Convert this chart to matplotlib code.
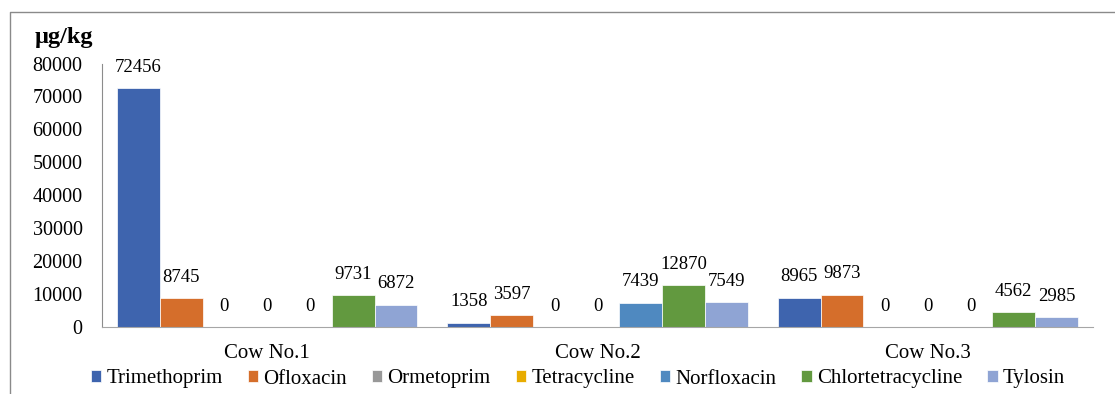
import numpy as np
import matplotlib
matplotlib.use("Agg")
import matplotlib.pyplot as plt
from matplotlib.lines import Line2D

plt.rcParams['font.family'] = ['Liberation Serif', 'DejaVu Serif']

# data
cows = ["Cow No.1", "Cow No.2", "Cow No.3"]
drugs = ["Trimethoprim", "Ofloxacin", "Ormetoprim", "Tetracycline",
         "Norfloxacin", "Chlortetracycline", "Tylosin"]
trimethoprim = [72456, 1358, 8965]
ofloxacin = [8745, 3597, 9873]
ormetoprim = [0, 0, 0]
tetracycline = [0, 0, 0]
norfloxacin = [0, 7439, 0]
chlortetracycline = [9731, 12870, 4562]
tylosin = [6872, 7549, 2985]
yticks = [0, 10000, 20000, 30000, 40000, 50000, 60000, 70000, 80000]

series = [trimethoprim, ofloxacin, ormetoprim, tetracycline,
          norfloxacin, chlortetracycline, tylosin]
colors = ["#3E64AE", "#D56E2B", "#989898", "#E8AC00",
          "#4F89C0", "#62993F", "#8FA4D4"]

fig = plt.figure(figsize=(11.15, 3.94), dpi=100)
ax = fig.add_axes([0.0915, 0.1693, 0.8888, 0.6695])

x = np.arange(len(cows))
width = 0.13
n = len(series)
for i, (vals, c) in enumerate(zip(series, colors)):
    pos = x + (i - (n - 1) / 2) * width
    bars = ax.bar(pos, vals, width, color=c, edgecolor="white",
                  linewidth=0.5, label=drugs[i])
    # value label above every bar, zeros included
    for b, v in zip(bars, vals):
        ax.annotate(str(v), (b.get_x() + b.get_width() / 2, v),
                    xytext=(0, 15), textcoords="offset points",
                    ha="center", va="center", fontsize=13.5)

ax.set_xlim(-0.5, len(cows) - 0.5)
ax.set_ylim(0, 80000)
ax.set_yticks(yticks)
ax.set_yticklabels([str(t) for t in yticks], fontsize=14.5)
ax.set_xticks(x)
ax.set_xticklabels(cows, fontsize=15)
ax.tick_params(axis="y", length=0, pad=14)
ax.tick_params(axis="x", length=0, pad=12)
for s in ["top", "right"]:
    ax.spines[s].set_visible(False)
ax.spines["left"].set_color("#8C8C8C")
ax.spines["bottom"].set_color("#A6A6A6")
ax.spines["left"].set_linewidth(0.8)
ax.spines["bottom"].set_linewidth(0.8)

fig.text(64 / 1115, 1 - 37 / 394, "µg/kg", fontsize=17.5, fontweight="bold",
         ha="center", va="center")

fig.legend(loc="center", bbox_to_anchor=(578 / 1115, 1 - 379 / 394),
           ncol=7, frameon=False, fontsize=15, handlelength=0.5,
           handleheight=0.5, handletextpad=0.25, columnspacing=1.2,
           borderaxespad=0, borderpad=0)

# frame of the original figure (top and left edges only)
fig.add_artist(Line2D([10 / 1115, 10 / 1115, 1.0], [0.0, 1 - 12 / 394, 1 - 12 / 394],
                      transform=fig.transFigure, color="#8A8A8A", linewidth=1.0))

fig.savefig("out.png", dpi=100)
